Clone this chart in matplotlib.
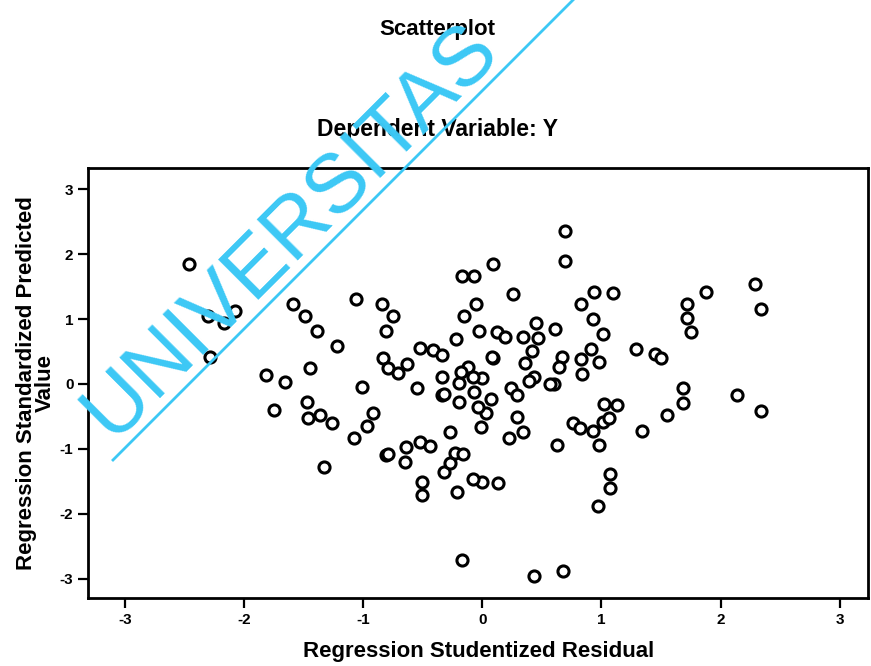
import numpy as np
import matplotlib
matplotlib.use('Agg')
import matplotlib.pyplot as plt

plt.rc('font', family='Liberation Sans', weight='bold')
plt.rc('axes', labelweight='bold')

# studentized residual (x) and standardized predicted value (y)
resid = [0.69, 0.69, -2.46, -0.17, -0.07, 0.09, 0.26, 0.94, 1.10, 2.29,
         2.34, 1.88, 1.72, 1.72, 1.75, -1.59, -1.49, -1.39, -1.22, -1.06,
         -0.84, -0.75, -0.81, -2.08, -2.30, -2.17, -2.29, -0.05, -0.15, -0.03,
         -0.22, -0.52, -0.41, -0.34, -0.83, -0.79, -0.71, -0.63, -1.82, -1.66,
         -1.45, -1.47, -1.75, -1.46, -1.36, -1.26, -1.01, -0.55, -0.34, -0.34,
         -0.20, -0.20, -0.12, -0.18, 0.00, -0.08, 0.83, 0.93, 1.01, 1.29,
         1.45, 1.50, 0.45, 0.61, 0.12, 0.19, 0.34, 0.47, 0.42, 0.91,
         0.83, 0.98, 0.67, 0.64, 0.36, 0.09, 0.84, 0.43, 0.39, 0.60,
         0.24, 0.29, 0.07, -0.07, 0.03, -0.04, -0.01, 0.29, 0.22, 0.34,
         0.63, 0.76, 0.82, 0.93, 1.01, 1.06, 1.02, 1.13, 0.98, 1.34,
         1.55, 1.68, 1.68, 2.14, 2.34, 1.07, 1.07, 0.97, 0.00, 0.13,
         -0.08, -0.21, -0.51, -0.51, -0.32, -0.27, -0.23, -0.16, -0.27, -0.52,
         -0.44, -0.64, -0.65, -0.81, -0.92, -0.97, -1.08, -1.33, -0.17, 0.43,
         0.68, -0.79, -0.32, 0.08, 0.57]
pred = [2.35, 1.90, 1.85, 1.67, 1.67, 1.85, 1.39, 1.42, 1.40, 1.54,
        1.16, 1.42, 1.23, 1.02, 0.80, 1.23, 1.05, 0.82, 0.59, 1.31,
        1.23, 1.05, 0.82, 1.13, 1.05, 0.94, 0.42, 1.23, 1.05, 0.82,
        0.69, 0.56, 0.52, 0.45, 0.40, 0.25, 0.17, 0.31, 0.14, 0.03,
        0.25, -0.28, -0.40, -0.52, -0.48, -0.60, -0.05, -0.06, 0.11, -0.17,
        0.02, -0.28, 0.26, 0.19, 0.09, 0.11, 1.23, 1.00, 0.77, 0.54,
        0.46, 0.40, 0.94, 0.85, 0.80, 0.73, 0.73, 0.71, 0.51, 0.54,
        0.39, 0.34, 0.42, 0.26, 0.32, 0.40, 0.15, 0.11, 0.05, 0.00,
        -0.06, -0.17, -0.23, -0.12, -0.45, -0.35, -0.66, -0.51, -0.83, -0.74,
        -0.94, -0.60, -0.68, -0.73, -0.59, -0.52, -0.31, -0.32, -0.94, -0.73,
        -0.48, -0.29, -0.06, -0.17, -0.42, -1.39, -1.60, -1.88, -1.51, -1.53,
        -1.47, -1.67, -1.51, -1.71, -1.36, -1.22, -1.06, -1.08, -0.74, -0.90,
        -0.96, -0.97, -1.20, -1.10, -0.45, -0.65, -0.83, -1.28, -2.72, -2.96,
        -2.89, -1.08, -0.15, 0.42, 0.00]

ticks = [-3, -2, -1, 0, 1, 2, 3]

fig = plt.figure(figsize=(8.71, 6.66), dpi=100)
ax = fig.add_axes([0.101, 0.102, 0.896, 0.646])

ax.plot(resid, pred, 'o', ms=8, mfc='white', mec='black', mew=2.2, ls='none')

ax.set_xlim(-3.31, 3.24)
ax.set_ylim(-3.30, 3.33)
ax.set_xticks(ticks)
ax.set_yticks(ticks)
ax.set_xticklabels([str(t) for t in ticks])
ax.set_yticklabels([str(t) for t in ticks])
ax.tick_params(direction='out', length=7, width=1.6, labelsize=11)
for s in ax.spines.values():
    s.set_linewidth(2)

ax.set_xlabel('Regression Studentized Residual', fontsize=16, labelpad=10)
ax.set_ylabel('Regression Standardized Predicted\nValue', fontsize=16,
              labelpad=3, linespacing=0.85)

fig.text(0.502, 0.955, 'Scatterplot', ha='center', va='center', fontsize=16)
fig.text(0.502, 0.805, 'Dependent Variable: Y', ha='center', va='center', fontsize=16.5)

# cyan watermark across the upper left
wm = '#3cc8f5'
fig.text(112 / 871, 1 - 440 / 666, 'UNIVERSITAS', rotation=45, rotation_mode='anchor',
         ha='left', va='baseline', fontsize=60, color=wm, weight='normal',
         family='Liberation Sans', zorder=10)
fig.add_artist(plt.Line2D([113 / 871, 600 / 871], [1 - 460 / 666, 1 - (-27) / 666],
                          color=wm, lw=2, transform=fig.transFigure, zorder=10))

fig.savefig('out.png', dpi=100)
